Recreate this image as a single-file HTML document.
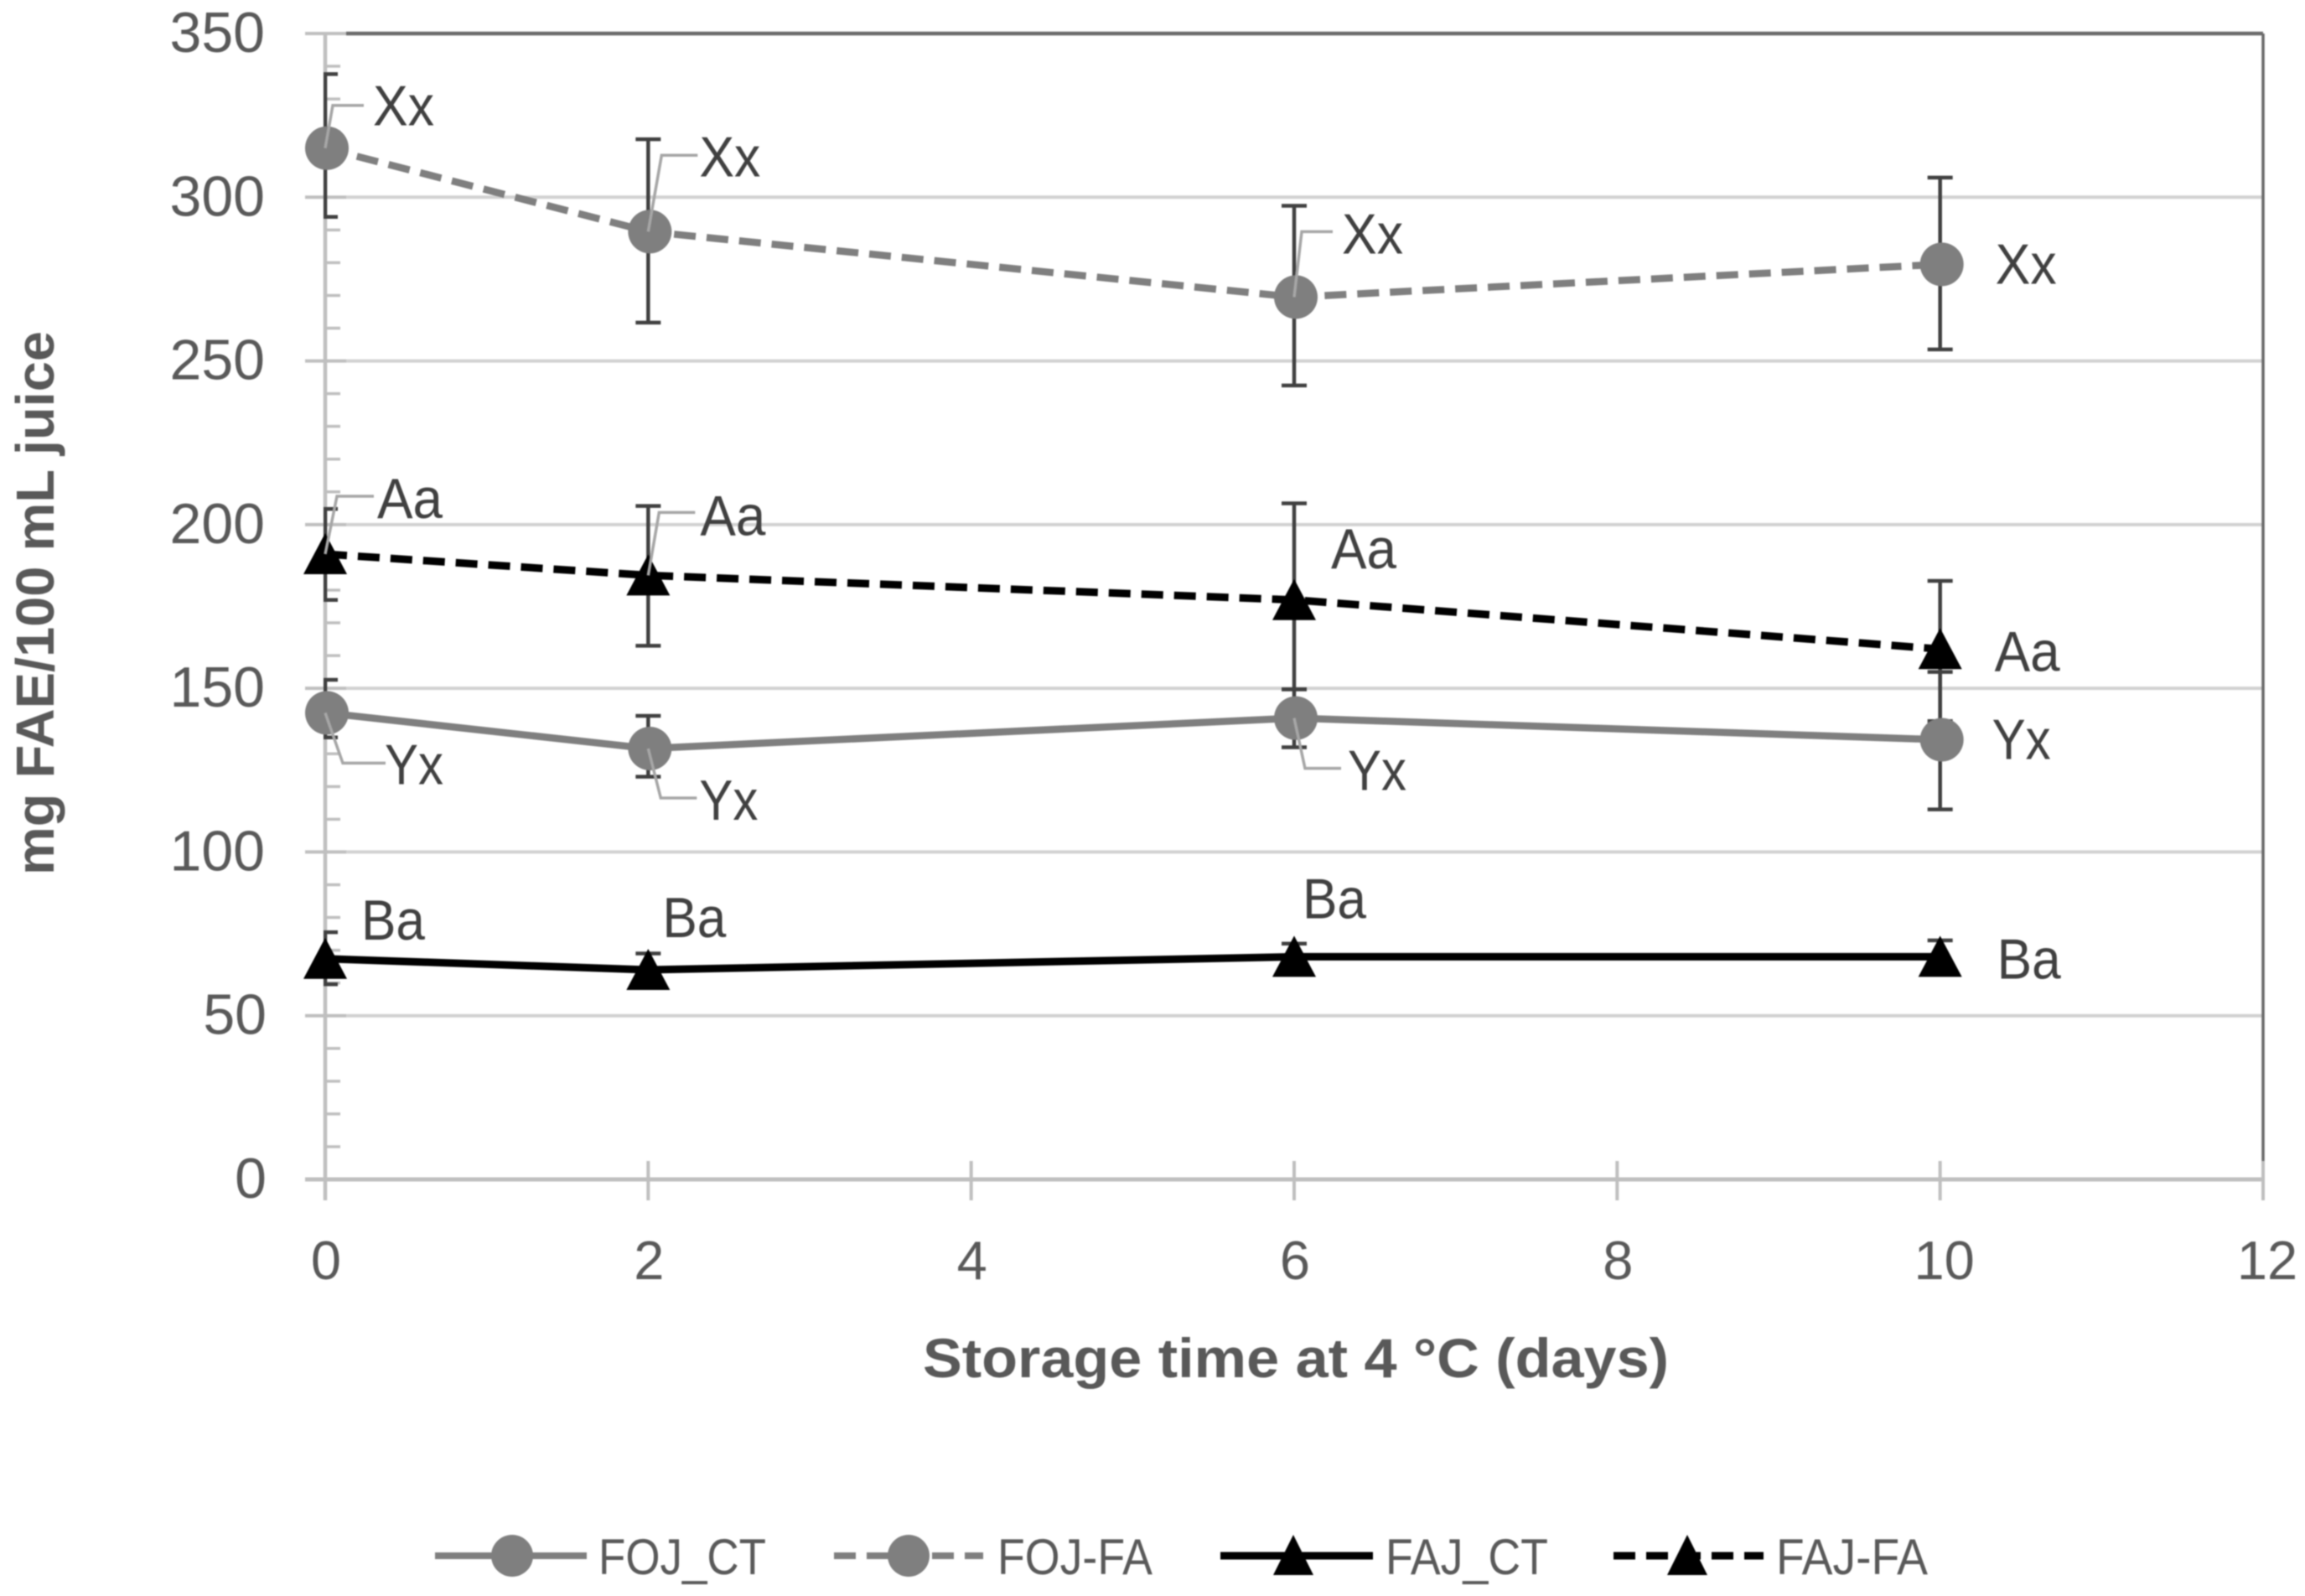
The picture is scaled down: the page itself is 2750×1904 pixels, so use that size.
<!DOCTYPE html>
<html lang="en">
<head>
<meta charset="utf-8">
<title>FAE storage chart</title>
<style>
  html, body { margin: 0; padding: 0; background: #ffffff; }
  body { width: 2750px; height: 1904px; overflow: hidden; }
  svg { display: block; filter: blur(0.7px); font-family: "Liberation Sans", sans-serif; }
</style>
</head>
<body>
<svg id="chart" xmlns="http://www.w3.org/2000/svg" width="2750" height="1904" viewBox="0 0 2750 1904">
  <defs>
    <clipPath id="plot-clip"><rect x="386" y="30" width="2320" height="1400"></rect></clipPath>
  </defs>
  <rect x="0" y="0" width="2750" height="1904" fill="#ffffff"></rect>
  <g id="grid"></g>
  <g id="axes"></g>
  <g id="errors" clip-path="url(#plot-clip)"></g>
  <g id="series"></g>
  <g id="leaders"></g>
  <g id="labels"></g>

  <text transform="translate(64,1044) rotate(-90)" font-size="64" font-weight="bold" fill="#595959" textLength="649" lengthAdjust="spacingAndGlyphs">mg FAE/100 mL juice</text>
  <text x="1101" y="1643" font-size="66" font-weight="bold" fill="#595959" textLength="890" lengthAdjust="spacingAndGlyphs">Storage time at 4 °C (days)</text>

  <g>
    <g>
      <line x1="519" y1="1856" x2="700" y2="1856" stroke="#7f7f7f" stroke-width="8"></line>
      <circle cx="611" cy="1856" r="25" fill="#7f7f7f"></circle>
      <text x="714" y="1878" font-size="60" fill="#595959" textLength="200" lengthAdjust="spacingAndGlyphs">FOJ_CT</text>
    </g>
    <g>
      <line x1="995" y1="1856" x2="1173" y2="1856" stroke="#7f7f7f" stroke-width="8" stroke-dasharray="26 13"></line>
      <circle cx="1084" cy="1856" r="25" fill="#7f7f7f"></circle>
      <text x="1190" y="1878" font-size="60" fill="#595959" textLength="185" lengthAdjust="spacingAndGlyphs">FOJ-FA</text>
    </g>
    <g>
      <line x1="1456" y1="1856" x2="1638" y2="1856" stroke="#000000" stroke-width="9"></line>
      <path d="M1543 1831 L1567 1879 L1519 1879 Z" fill="#000000"></path>
      <text x="1653" y="1878" font-size="60" fill="#595959" textLength="194" lengthAdjust="spacingAndGlyphs">FAJ_CT</text>
    </g>
    <g>
      <line x1="1925" y1="1856" x2="2104" y2="1856" stroke="#000000" stroke-width="9" stroke-dasharray="26 13"></line>
      <path d="M2013 1831 L2037 1879 L1989 1879 Z" fill="#000000"></path>
      <text x="2119" y="1878" font-size="60" fill="#595959" textLength="181" lengthAdjust="spacingAndGlyphs">FAJ-FA</text>
    </g>
  </g>
</svg>

<script>
// ---- data ----
const days = [0, 2, 6, 10];
const xTickValues = [0, 2, 4, 6, 8, 10, 12];
const yTickValues = [0, 50, 100, 150, 200, 250, 300, 350];

const fojCtValues = [142.5, 131.6, 140.9, 134.3];
const fojCtUpper  = [152.6, 141.6, 149.7, 155];
const fojCtLower  = [135, 123, 132, 113];
const fojCtLabels = ['Yx', 'Yx', 'Yx', 'Yx'];

const fojFaValues = [315, 289.5, 269.5, 279.5];
const fojFaUpper  = [337.6, 317.7, 297.4, 306];
const fojFaLower  = [294, 261.7, 242.5, 253.5];
const fojFaLabels = ['Xx', 'Xx', 'Xx', 'Xx'];

const fajCtValues = [67.4, 64, 68, 68];
const fajCtUpper  = [75.5, 69, 72, 73];
const fajCtLower  = [59.6, 59, 64, 63];
const fajCtLabels = ['Ba', 'Ba', 'Ba', 'Ba'];

const fajFaValues = [191, 184.5, 177, 162];
const fajFaUpper  = [204.8, 205.7, 206.5, 182.8];
const fajFaLower  = [177, 163, 149.7, 140];
const fajFaLabels = ['Aa', 'Aa', 'Aa', 'Aa'];

// ---- layout ----
const NS = 'http://www.w3.org/2000/svg';
const X0 = 388, X12 = 2700, Y0 = 1407, Y350 = 40;
const xScale = function (v) { return X0 + v * (X12 - X0) / 12; };
const yScale = function (v) { return Y0 - v * (Y0 - Y350) / 350; };

function make(parent, tag, attrs) {
  const node = document.createElementNS(NS, tag);
  for (const k in attrs) node.setAttribute(k, attrs[k]);
  parent.appendChild(node);
  return node;
}

const gGrid = document.getElementById('grid');
const gAxes = document.getElementById('axes');
const gErrors = document.getElementById('errors');
const gSeries = document.getElementById('series');
const gLeaders = document.getElementById('leaders');
const gLabels = document.getElementById('labels');

// gridlines, minor ticks
for (let v = 10; v < 350; v += 10) {
  if (v % 50 === 0) continue;
  const t = make(gAxes, 'line', { x1: X0, x2: X0 + 18, y1: yScale(v), y2: yScale(v), stroke: '#bfbfbf', 'stroke-width': 3.5 });
  
  
}
yTickValues.forEach(function (v) {
  const y = yScale(v);
  if (v > 0 && v < 350) {
    const g = make(gGrid, 'line', { x1: X0 + 25, x2: X12, y1: y, y2: y, stroke: '#d2d2d2', 'stroke-width': 4 });
    
    
  }
  const t = make(gAxes, 'line', { x1: X0 - 24, x2: X0 + 25, y1: y, y2: y, stroke: '#bfbfbf', 'stroke-width': 4 });
  
  
  const lab = make(gAxes, 'text', { x: v < 100 ? 318 : 316, y: y + 22, 'text-anchor': 'end', 'font-size': 68, fill: '#595959' });
  lab.textContent = String(v);
  
  
});

// frame + axes
const topLine = make(gGrid, 'line', { x1: X0 + 25, x2: X12, y1: Y350, y2: Y350, stroke: '#6a6a6a', 'stroke-width': 4.5 });


const rightLine = make(gGrid, 'line', { x1: X12, x2: X12, y1: Y350, y2: Y0 - 22, stroke: '#6a6a6a', 'stroke-width': 3.5 });


const yAxis = make(gAxes, 'line', { x1: X0, x2: X0, y1: Y350, y2: Y0 + 25, stroke: '#bfbfbf', 'stroke-width': 4.5 });


const xAxis = make(gAxes, 'line', { x1: X0 - 24, x2: X12, y1: Y0, y2: Y0, stroke: '#bfbfbf', 'stroke-width': 5 });



xTickValues.forEach(function (v) {
  const x = xScale(v);
  const t = make(gAxes, 'line', { x1: x, x2: x, y1: Y0 - 22, y2: Y0 + 25, stroke: '#bfbfbf', 'stroke-width': 4 });
  
  
  const lab = make(gAxes, 'text', { x: v >= 10 ? x + 5 : x + 1, y: 1526, 'text-anchor': 'middle', 'font-size': 65, fill: '#595959' });
  lab.textContent = String(v);
  
  
});

// series definitions (offsets of labels / leaders are relative to each data point)
const seriesList = [
  { key: 'foj-ct', values: fojCtValues, upper: fojCtUpper, lower: fojCtLower, labels: fojCtLabels,
    color: '#7f7f7f', dash: null, shape: 'circle', width: 8.5,
    ldx: [71, 61, 64, 62], ldy: [85, 85, 86, 23], lw: 70,
    leader: [[21, 60, 51], [15, 59, 43], [13, 60, 43], null] },
  { key: 'foj-fa', values: fojFaValues, upper: fojFaUpper, lower: fojFaLower, labels: fojFaLabels,
    color: '#7f7f7f', dash: '26 13', shape: 'circle', width: 8.5,
    ldx: [57, 61, 57, 66], ldy: [-27, -66, -52, 23], lw: 73,
    leader: [[9, -51, 37], [16, -91, 43], [9, -78, 37], null] },
  { key: 'faj-ct', values: fajCtValues, upper: fajCtUpper, lower: fajCtLower, labels: fajCtLabels,
    color: '#000000', dash: null, shape: 'triangle', width: 9,
    ldx: [43, 17, 10, 68], ldy: [-23, -39, -46, 26], lw: 76,
    leader: [null, null, null, null] },
  { key: 'faj-fa', values: fajFaValues, upper: fajFaUpper, lower: fajFaLower, labels: fajFaLabels,
    color: '#000000', dash: '26 13', shape: 'triangle', width: 9,
    ldx: [62, 62, 44, 65], ldy: [-43, -48, -37.5, 26], lw: 78,
    leader: [[14, -69, 44], [13, -75, 43], null, null] }
];

// error bars first
seriesList.forEach(function (s) {
  days.forEach(function (d, i) {
    const x = xScale(d), yu = yScale(s.upper[i]), yl = yScale(s.lower[i]);
    const stem = make(gErrors, 'line', { x1: x, x2: x, y1: yu, y2: yl, stroke: '#404040', 'stroke-width': 4.5 });
    
    
    [yu, yl].forEach(function (cy) {
      const cap = make(gErrors, 'line', { x1: x - 15, x2: x + 15, y1: cy, y2: cy, stroke: '#404040', 'stroke-width': 4.5 });
      
      
    });
  });
});

// lines + markers
seriesList.forEach(function (s) {
  const pts = days.map(function (d, i) { return xScale(d) + ',' + yScale(s.values[i]); }).join(' ');
  const attrs = { points: pts, fill: 'none', stroke: s.color, 'stroke-width': s.width };
  if (s.dash) attrs['stroke-dasharray'] = s.dash;
  const line = make(gSeries, 'polyline', attrs);
  
  
});
seriesList.forEach(function (s) {
  days.forEach(function (d, i) {
    const x = xScale(d), y = yScale(s.values[i]);
    let m;
    if (s.shape === 'circle') {
      m = make(gSeries, 'circle', { cx: x + 2, cy: y, r: 26, fill: s.color });
    } else {
      m = make(gSeries, 'path', { d: 'M' + x + ' ' + (y - 25) + ' L' + (x + 26) + ' ' + (y + 24) + ' L' + (x - 26) + ' ' + (y + 24) + ' Z', fill: s.color });
    }
    
    

    const lead = s.leader[i];
    if (lead) {
      const l = make(gLeaders, 'polyline', {
        points: x + ',' + y + ' ' + (x + lead[0]) + ',' + (y + lead[1]) + ' ' + (x + lead[0] + lead[2]) + ',' + (y + lead[1]),
        fill: 'none', stroke: '#a6a6a6', 'stroke-width': 3.5
      });
      
      
    }

    const t = make(gLabels, 'text', {
      x: x + s.ldx[i], y: y + s.ldy[i], 'font-size': 68, fill: '#404040',
      textLength: s.lw, lengthAdjust: 'spacingAndGlyphs'
    });
    t.textContent = s.labels[i];
    
    
  });
});
</script>
</body>
</html>
